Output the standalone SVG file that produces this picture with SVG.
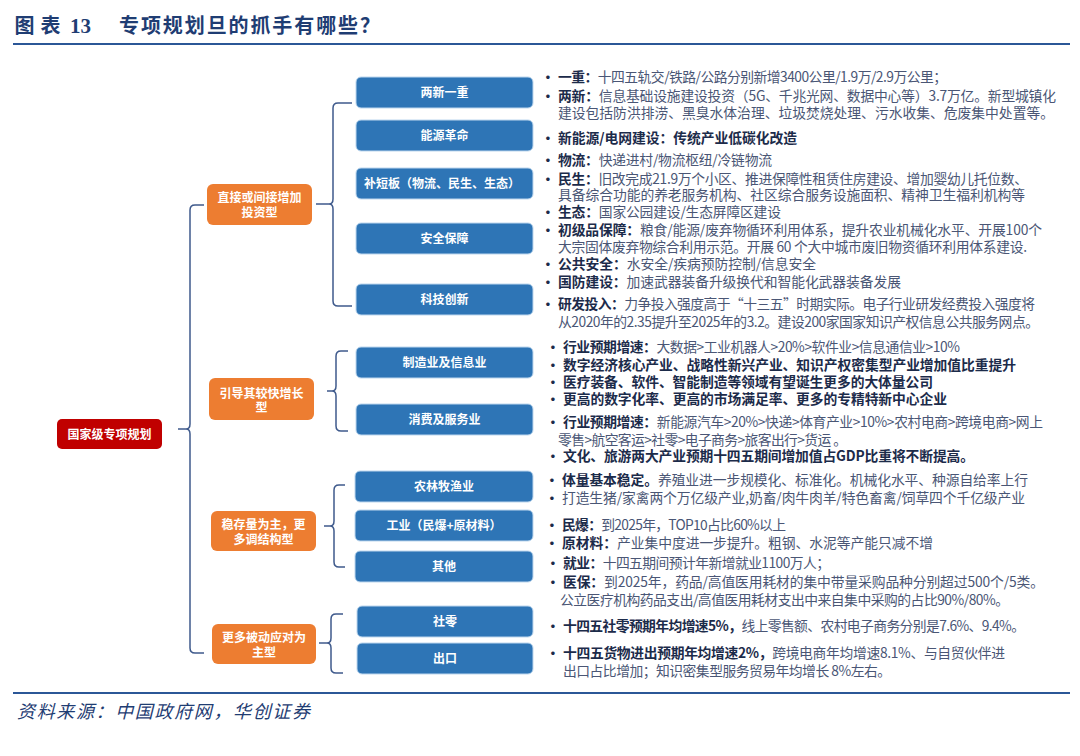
<svg xmlns="http://www.w3.org/2000/svg" width="1080" height="756" viewBox="0 0 1080 756">
<style>
.ttl{font-family:"Noto Sans CJK SC","Liberation Serif",serif;font-weight:bold;fill:#1f3d73}
.src{font-family:"Noto Sans CJK SC",sans-serif;font-style:italic;fill:#1f3d73;font-size:18px}
.rule{stroke:#2b5797;stroke-width:2}
.blue{fill:#2e75b6;stroke:#bdd7ee;stroke-width:1}
.orange{fill:#ed7d31}
.red{fill:#c00000}
.lbl{font-family:"Noto Sans CJK SC",sans-serif;font-size:12px;font-weight:bold;fill:#ffffff;text-anchor:middle}
.br{fill:none;stroke:#3f5a8c;stroke-width:1.5}
.t{font-family:"Noto Sans CJK SC",sans-serif;font-size:13.8px;fill:#4a5675}
.b{font-weight:bold;fill:#1c2b4a}
.bul{font-family:"Noto Sans CJK SC",sans-serif;font-size:13.8px;fill:#1c2b4a;font-weight:bold}
</style>
<rect width="1080" height="756" fill="#ffffff"/>
<g id="title">
<text class="ttl" x="14.5" y="33" font-size="20" textLength="46">图表</text>
<text class="ttl" x="70" y="33" font-size="21" style="font-family:'Liberation Serif',serif">13</text>
<text class="ttl" x="119" y="33" font-size="20" textLength="261">专项规划旦的抓手有哪些？</text>
<line class="rule" x1="13" y1="44" x2="1070" y2="44"/>
</g>
<g id="connectors">
<path class="br" d="M204,205 H195 Q190,205 190,210 V424 Q190,429 186,429 Q190,429 190,434 V648 Q190,653 195,653 H204 M178,429 H186"/>
<path class="br" d="M352,103 H338 Q333,103 333,108 V199 Q333,204 329,204 Q333,204 333,209 V301 Q333,306 338,306 H352 M316,204 H329"/>
<path class="br" d="M348,351 H341 Q336,351 336,356 V386 Q336,391 332,391 Q336,391 336,396 V426 Q336,431 341,431 H348 M327,391 H332"/>
<path class="br" d="M345,485 H339 Q334,485 334,490 V521 Q334,526 330,526 Q334,526 334,531 V562 Q334,567 339,567 H345 M324,526 H330"/>
<path class="br" d="M343,614 H336 Q331,614 331,619 V638 Q331,643 327,643 Q331,643 331,648 V668 Q331,673 336,673 H343 M319,643 H327"/>
</g>
<g id="root"><rect class="red" x="57" y="419" width="105" height="30" rx="5"/><text class="lbl" x="109.5" y="438.5">国家级专项规划</text></g>
<g id="cat1"><rect class="orange" x="207" y="184" width="105" height="41" rx="6"/><text class="lbl" x="259.5" y="201.5">直接或间接增加</text><text class="lbl" x="259.5" y="216.5">投资型</text></g>
<g id="cat2"><rect class="orange" x="209" y="378" width="105" height="42" rx="6"/><text class="lbl" x="261.5" y="397.5">引导其较快增长</text><text class="lbl" x="261.5" y="411.5">型</text></g>
<g id="cat3"><rect class="orange" x="211" y="511" width="105" height="40" rx="6"/><text class="lbl" x="263.5" y="528.5">稳存量为主，更</text><text class="lbl" x="263.5" y="543.5">多调结构型</text></g>
<g id="cat4"><rect class="orange" x="212" y="624" width="104" height="40" rx="6"/><text class="lbl" x="264" y="641.5">更多被动应对为</text><text class="lbl" x="264" y="656.5">主型</text></g>
<g id="n1"><rect class="blue" x="356" y="77" width="177" height="31" rx="5"/><text class="lbl" x="444.5" y="97">两新一重</text></g>
<g id="n2"><rect class="blue" x="356" y="120" width="177" height="31" rx="5"/><text class="lbl" x="444.5" y="140">能源革命</text></g>
<g id="n3"><rect class="blue" x="356" y="168" width="177" height="31" rx="5"/><text class="lbl" x="442" y="188">补短板（物流、民生、生态）</text></g>
<g id="n4"><rect class="blue" x="356" y="223" width="177" height="31" rx="5"/><text class="lbl" x="444.5" y="243">安全保障</text></g>
<g id="n5"><rect class="blue" x="356" y="284" width="177" height="31" rx="5"/><text class="lbl" x="444.5" y="304">科技创新</text></g>
<g id="n6"><rect class="blue" x="356" y="347" width="177" height="31" rx="5"/><text class="lbl" x="444.5" y="367">制造业及信息业</text></g>
<g id="n7"><rect class="blue" x="356" y="404" width="177" height="31" rx="5"/><text class="lbl" x="444.5" y="424">消费及服务业</text></g>
<g id="n8"><rect class="blue" x="355" y="471" width="178" height="31" rx="5"/><text class="lbl" x="444" y="491">农林牧渔业</text></g>
<g id="n9"><rect class="blue" x="355" y="510" width="178" height="31" rx="5"/><text class="lbl" x="444" y="530">工业（民爆+原材料）</text></g>
<g id="n10"><rect class="blue" x="355" y="551" width="178" height="31" rx="5"/><text class="lbl" x="444" y="571">其他</text></g>
<g id="n11"><rect class="blue" x="357" y="606" width="176" height="31" rx="5"/><text class="lbl" x="445" y="626">社零</text></g>
<g id="n12"><rect class="blue" x="357" y="643" width="176" height="31" rx="5"/><text class="lbl" x="445" y="663">出口</text></g>
<g id="notes">
<text class="bul" x="541" y="81.5">•</text>
<text class="t" x="558" y="81.5" textLength="389"><tspan class="b">一重：</tspan>十四五轨交/铁路/公路分别新增3400公里/1.9万/2.9万公里；</text>
<text class="bul" x="541" y="101">•</text>
<text class="t" x="558" y="101" textLength="498"><tspan class="b">两新：</tspan>信息基础设施建设投资（5G、千兆光网、数据中心等）3.7万亿。新型城镇化</text>
<text class="t" x="558" y="118" textLength="496">建设包括防洪排涝、黑臭水体治理、垃圾焚烧处理、污水收集、危废集中处置等。</text>
<text class="bul" x="541" y="143">•</text>
<text class="t b" x="558" y="143" textLength="239">新能源/电网建设：传统产业低碳化改造</text>
<text class="bul" x="541" y="164.5">•</text>
<text class="t" x="558" y="164.5" textLength="214"><tspan class="b">物流：</tspan>快递进村/物流枢纽/冷链物流</text>
<text class="bul" x="541" y="184">•</text>
<text class="t" x="558" y="184" textLength="470"><tspan class="b">民生：</tspan>旧改完成21.9万个小区、推进保障性租赁住房建设、增加婴幼儿托位数、</text>
<text class="t" x="558" y="200" textLength="467">具备综合功能的养老服务机构、社区综合服务设施面积、精神卫生福利机构等</text>
<text class="bul" x="541" y="216.5">•</text>
<text class="t" x="558" y="216.5" textLength="223"><tspan class="b">生态：</tspan>国家公园建设/生态屏障区建设</text>
<text class="bul" x="541" y="234.5">•</text>
<text class="t" x="558" y="234.5" textLength="484"><tspan class="b">初级品保障：</tspan>粮食/能源/废弃物循环利用体系，提升农业机械化水平、开展100个</text>
<text class="t" x="558" y="252" textLength="469">大宗固体废弃物综合利用示范。开展 60 个大中城市废旧物资循环利用体系建设.</text>
<text class="bul" x="541" y="269">•</text>
<text class="t" x="558" y="269" textLength="258"><tspan class="b">公共安全：</tspan>水安全/疾病预防控制/信息安全</text>
<text class="bul" x="541" y="286.5">•</text>
<text class="t" x="558" y="286.5" textLength="343"><tspan class="b">国防建设：</tspan>加速武器装备升级换代和智能化武器装备发展</text>
<text class="bul" x="541" y="309">•</text>
<text class="t" x="558" y="309" textLength="477"><tspan class="b">研发投入：</tspan>力争投入强度高于“十三五”时期实际。电子行业研发经费投入强度将</text>
<text class="t" x="558" y="327" textLength="481">从2020年的2.35提升至2025年的3.2。建设200家国家知识产权信息公共服务网点。</text>
<text class="bul" x="546" y="351.5">•</text>
<text class="t" x="563" y="351.5" textLength="397"><tspan class="b">行业预期增速：</tspan>大数据&gt;工业机器人&gt;20%&gt;软件业&gt;信息通信业&gt;10%</text>
<text class="bul" x="546" y="370">•</text>
<text class="t b" x="563" y="370" textLength="453">数字经济核心产业、战略性新兴产业、知识产权密集型产业增加值比重提升</text>
<text class="bul" x="546" y="387">•</text>
<text class="t b" x="563" y="387" textLength="370">医疗装备、软件、智能制造等领域有望诞生更多的大体量公司</text>
<text class="bul" x="546" y="404">•</text>
<text class="t b" x="563" y="404" textLength="384">更高的数字化率、更高的市场满足率、更多的专精特新中心企业</text>
<text class="bul" x="546" y="427">•</text>
<text class="t" x="563" y="427" textLength="480"><tspan class="b">行业预期增速：</tspan>新能源汽车&gt;20%&gt;快递&gt;体育产业&gt;10%&gt;农村电商&gt;跨境电商&gt;网上</text>
<text class="t" x="558" y="444.5" textLength="289">零售&gt;航空客运&gt;社零&gt;电子商务&gt;旅客出行&gt;货运 。</text>
<text class="bul" x="546" y="460.5">•</text>
<text class="t b" x="563" y="460.5" textLength="411">文化、旅游两大产业预期十四五期间增加值占GDP比重将不断提高。</text>
<text class="bul" x="545" y="485">•</text>
<text class="t" x="562" y="485" textLength="466"><tspan class="b">体量基本稳定。</tspan>养殖业进一步规模化、标准化。机械化水平、种源自给率上行</text>
<text class="bul" x="545" y="502.5">•</text>
<text class="t" x="562" y="502.5" textLength="463">打造生猪/家禽两个万亿级产业,奶畜/肉牛肉羊/特色畜禽/饲草四个千亿级产业</text>
<text class="bul" x="545" y="530">•</text>
<text class="t" x="562" y="530" textLength="224"><tspan class="b">民爆：</tspan>到2025年，TOP10占比60%以上</text>
<text class="bul" x="545" y="547.5">•</text>
<text class="t" x="562" y="547.5" textLength="371"><tspan class="b">原材料：</tspan>产业集中度进一步提升。粗钢、水泥等产能只减不增</text>
<text class="bul" x="546" y="567.5">•</text>
<text class="t" x="563" y="567.5" textLength="267"><tspan class="b">就业：</tspan>十四五期间预计年新增就业1100万人；</text>
<text class="bul" x="546" y="587">•</text>
<text class="t" x="563" y="587" textLength="481"><tspan class="b">医保：</tspan>到2025年，药品/高值医用耗材的集中带量采购品种分别超过500个/5类。</text>
<text class="t" x="560" y="604.5" textLength="449">公立医疗机构药品支出/高值医用耗材支出中来自集中采购的占比90%/80%。</text>
<text class="bul" x="546" y="631">•</text>
<text class="t" x="563" y="631" textLength="462"><tspan class="b">十四五社零预期年均增速5%，</tspan>线上零售额、农村电子商务分别是7.6%、9.4%。</text>
<text class="bul" x="546" y="658">•</text>
<text class="t" x="563" y="658" textLength="442"><tspan class="b">十四五货物进出预期年均增速2%，</tspan>跨境电商年均增速8.1%、与自贸伙伴进</text>
<text class="t" x="563" y="675.5" textLength="328">出口占比增加；知识密集型服务贸易年均增长 8%左右。</text>
</g>
<g id="footer">
<line class="rule" x1="13" y1="693" x2="1070" y2="693"/>
<text class="src" x="17" y="718" textLength="293">资料来源：中国政府网，华创证券</text>
</g>
</svg>
